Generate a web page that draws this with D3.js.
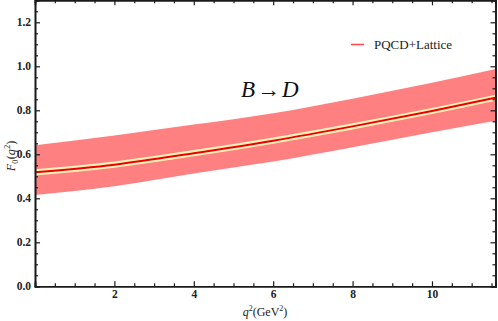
<!DOCTYPE html>
<html><head><meta charset="utf-8">
<script src="https://cdn.jsdelivr.net/npm/d3@7"></script>
<style>body{margin:0;background:#fff}svg{display:block}text{font-family:'Liberation Serif','Times New Roman',serif}</style>
</head><body>
<script>
const q2 = [0, 2, 4, 6, 8, 10, 11.6];
const central = [0.518, 0.553, 0.605, 0.662, 0.727, 0.797, 0.857];
const upper = [0.641, 0.685, 0.735, 0.787, 0.853, 0.925, 0.988];
const lower = [0.415, 0.455, 0.513, 0.567, 0.632, 0.700, 0.753];
const innerHalf = [0.014, 0.014, 0.014, 0.014, 0.014, 0.014, 0.014];
const xTicks = [2, 4, 6, 8, 10];
const yTicks = [0.0, 0.2, 0.4, 0.6, 0.8, 1.0, 1.2];
const legendLabel = "PQCD+Lattice";

const FONT = "'Liberation Serif','Times New Roman',serif";
const W = 498, H = 321;
const svg = d3.select("body").append("svg").attr("width", W).attr("height", H);
const x = d3.scaleLinear().domain([0, 11.6]).range([35, 495.5]);
const y = d3.scaleLinear().domain([0, 1.3]).range([286.3, 0.3]);

const data = q2.map((q, i) => ({q, c: central[i], u: upper[i], l: lower[i], h: innerHalf[i]}));
const curve = d3.curveMonotoneX;

svg.append("path").datum(data)
  .attr("d", d3.area().x(d => x(d.q)).y0(d => y(d.l)).y1(d => y(d.u)).curve(curve))
  .attr("fill", "#ff8080");
svg.append("path").datum(data)
  .attr("d", d3.area().x(d => x(d.q)).y0(d => y(d.c - d.h)).y1(d => y(d.c + d.h)).curve(curve))
  .attr("fill", "#fff2b8");
svg.append("path").datum(data)
  .attr("d", d3.line().x(d => x(d.q)).y(d => y(d.c)).curve(curve))
  .attr("fill", "none").attr("stroke", "#ee0000").attr("stroke-width", 2);

// axes frame
const axColor = "#1a1a1a";
const xMinor = d3.range(0.5, 11.6, 0.5).filter(v => Math.abs(v % 2) > 1e-6);
const yMinor = d3.range(0.05, 1.3, 0.05).filter(v => Math.abs(Math.round(v*100) % 20) > 1e-6);

const bottom = d3.axisBottom(x).tickValues(xTicks).tickSize(-5).tickFormat(d3.format("d")).tickPadding(4);
svg.append("g").attr("transform", `translate(0,${y(0)})`).call(bottom);
const left = d3.axisLeft(y).tickValues(yTicks).tickSize(-5).tickFormat(d3.format(".1f")).tickPadding(4);
svg.append("g").attr("transform", `translate(${x(0)},0)`).call(left);
svg.append("g").attr("transform", `translate(0,${y(1.3)})`).call(d3.axisTop(x).tickValues(xTicks).tickSize(-5).tickFormat(""));
svg.append("g").attr("transform", `translate(${x(11.6)},0)`).call(d3.axisRight(y).tickValues(yTicks).tickSize(-5).tickFormat(""));
svg.append("g").attr("transform", `translate(0,${y(0)})`).call(d3.axisBottom(x).tickValues(xMinor).tickSize(-3).tickFormat(""));
svg.append("g").attr("transform", `translate(0,${y(1.3)})`).call(d3.axisTop(x).tickValues(xMinor).tickSize(-3).tickFormat(""));
svg.append("g").attr("transform", `translate(${x(0)},0)`).call(d3.axisLeft(y).tickValues(yMinor).tickSize(-3).tickFormat(""));
svg.append("g").attr("transform", `translate(${x(11.6)},0)`).call(d3.axisRight(y).tickValues(yMinor).tickSize(-3).tickFormat(""));

svg.selectAll("g").attr("font-family", FONT);
svg.selectAll(".domain").attr("stroke", axColor).attr("stroke-width", 1.6);
svg.selectAll(".tick line").attr("stroke", axColor).attr("stroke-width", 1.2);
svg.selectAll(".tick text").attr("font-family", FONT).attr("font-weight", "bold")
  .attr("font-size", 11.5).attr("fill", "#222");

// axis titles
const xt = svg.append("text").attr("x", 265).attr("y", 316).attr("text-anchor", "middle")
  .attr("font-family", FONT).attr("font-size", 12).attr("fill", "#222");
xt.append("tspan").attr("font-style", "italic").text("q");
xt.append("tspan").attr("dy", -5).attr("font-size", 8).text("2");
xt.append("tspan").attr("dy", 5).text("(GeV");
xt.append("tspan").attr("dy", -5).attr("font-size", 8).text("2");
xt.append("tspan").attr("dy", 5).text(")");

const yt = svg.append("text").attr("transform", "translate(15,156) rotate(-90)").attr("text-anchor", "middle")
  .attr("font-family", FONT).attr("font-size", 12).attr("fill", "#222");
yt.append("tspan").attr("font-style", "italic").text("F");
yt.append("tspan").attr("dy", 2.5).attr("font-size", 8).text("0");
yt.append("tspan").attr("dy", -2.5).attr("dx", 0.5).text("(");
yt.append("tspan").attr("font-style", "italic").text("q");
yt.append("tspan").attr("dy", -5).attr("dx", 0.5).attr("font-size", 8).text("2");
yt.append("tspan").attr("dy", 5).text(")");

// annotation
const ann = svg.append("text").attr("x", 241).attr("y", 97)
  .attr("font-family", FONT).attr("font-size", 23).attr("fill", "#111");
ann.append("tspan").attr("font-style", "italic").text("B");
ann.append("tspan").attr("dx", 2).text("\u2192");
ann.append("tspan").attr("dx", 2).attr("font-style", "italic").text("D");

// legend
svg.append("line").attr("x1", 351).attr("x2", 364).attr("y1", 44.5).attr("y2", 44.5)
  .attr("stroke", "#ff4d4d").attr("stroke-width", 1.6);
svg.append("text").attr("x", 374).attr("y", 49).attr("font-family", FONT)
  .attr("font-size", 13).attr("fill", "#222").text(legendLabel);
</script>
</body></html>
